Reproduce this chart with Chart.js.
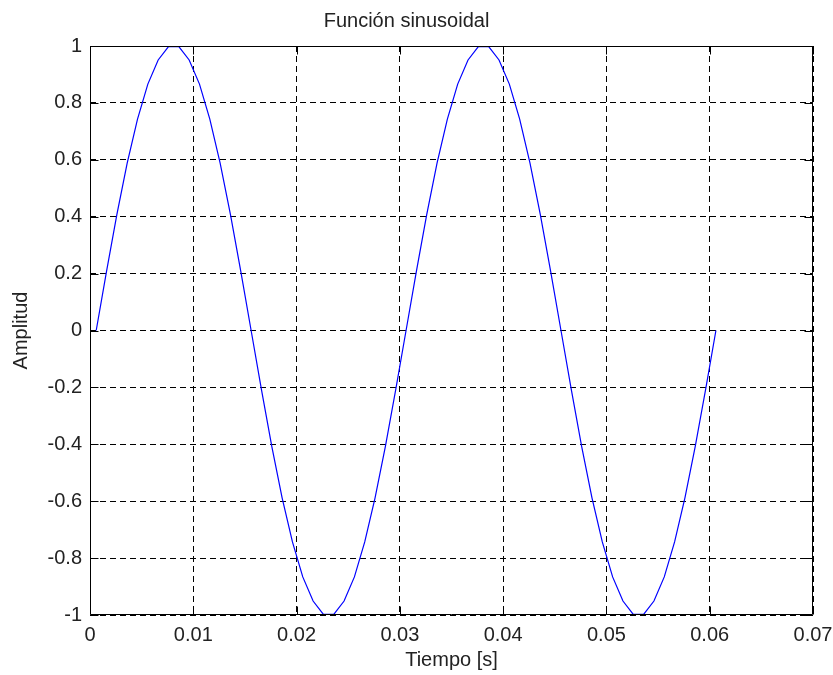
<!DOCTYPE html>
<html>
<head>
<meta charset="utf-8">
<script src="https://cdn.jsdelivr.net/npm/chart.js@4.4.1/dist/chart.umd.min.js"></script>
<style>
  html, body { margin: 0; padding: 0; background: #fff; }
  #caja { width: 833px; height: 675px; }
</style>
</head>
<body>
<div id="caja"><canvas id="grafica" width="833" height="675"></canvas></div>
<script>
// tiempo [s] de cada muestra
const tiempo = [
  0.0006, 0.0016, 0.0026, 0.0036, 0.0046, 0.0056, 0.0066, 0.0076, 0.0086, 0.0096,
  0.0106, 0.0116, 0.0126, 0.0136, 0.0146, 0.0156, 0.0166, 0.0176, 0.0186, 0.0196,
  0.0206, 0.0216, 0.0226, 0.0236, 0.0246, 0.0256, 0.0266, 0.0276, 0.0286, 0.0296,
  0.0306, 0.0316, 0.0326, 0.0336, 0.0346, 0.0356, 0.0366, 0.0376, 0.0386, 0.0396,
  0.0406, 0.0416, 0.0426, 0.0436, 0.0446, 0.0456, 0.0466, 0.0476, 0.0486, 0.0496,
  0.0506, 0.0516, 0.0526, 0.0536, 0.0546, 0.0556, 0.0566, 0.0576, 0.0586, 0.0596,
  0.0606
];
// amplitud de cada muestra
const amplitud = [
  0, 0.208, 0.407, 0.588, 0.743, 0.866, 0.951, 0.998, 0.998, 0.951,
  0.866, 0.743, 0.588, 0.407, 0.208, 0, -0.208, -0.407, -0.588, -0.743,
  -0.866, -0.951, -0.998, -0.998, -0.951, -0.866, -0.743, -0.588, -0.407, -0.208,
  0, 0.208, 0.407, 0.588, 0.743, 0.866, 0.951, 0.998, 0.998, 0.951,
  0.866, 0.743, 0.588, 0.407, 0.208, 0, -0.208, -0.407, -0.588, -0.743,
  -0.866, -0.951, -0.998, -0.998, -0.951, -0.866, -0.743, -0.588, -0.407, -0.208,
  0
];
const xTicks = [0, 0.01, 0.02, 0.03, 0.04, 0.05, 0.06, 0.07];
const yTicks = [-1, -0.8, -0.6, -0.4, -0.2, 0, 0.2, 0.4, 0.6, 0.8, 1];

const fuente = "'Liberation Sans', Arial, sans-serif";
const colorTexto = '#222';

// marco negro con marcas hacia adentro (estilo matlab)
const marco = {
  id: 'marco',
  afterDatasetsDraw(chart) {
    const {ctx, chartArea: a, scales: {x, y}} = chart;
    const L = Math.round(a.left) + 0.5, R = Math.round(a.right) - 0.5;
    const T = Math.round(a.top) + 0.5, B = Math.round(a.bottom) - 0.5;
    const largo = 8;
    ctx.save();
    ctx.strokeStyle = '#000';
    ctx.lineWidth = 1;
    ctx.setLineDash([]);
    ctx.beginPath();
    ctx.rect(L, T, R - L, B - T);
    xTicks.forEach(v => {
      const px = Math.round(x.getPixelForValue(v)) + 0.5;
      ctx.moveTo(px, B); ctx.lineTo(px, B - largo);
      ctx.moveTo(px, T); ctx.lineTo(px, T + largo);
    });
    yTicks.forEach(v => {
      const py = Math.round(y.getPixelForValue(v)) + 0.5;
      ctx.moveTo(L, py); ctx.lineTo(L + largo, py);
      ctx.moveTo(R, py); ctx.lineTo(R - largo, py);
    });
    ctx.stroke();
    ctx.restore();
  }
};

const ctx = document.getElementById('grafica').getContext('2d');
new Chart(ctx, {
  type: 'line',
  data: {
    datasets: [{
      data: tiempo.map((t, i) => ({x: t, y: amplitud[i]})),
      borderColor: '#0000ff',
      borderWidth: 1.2,
      pointRadius: 0,
      tension: 0,
      fill: false
    }]
  },
  options: {
    responsive: false,
    animation: false,
    layout: { padding: { left: 0, right: 20, top: 0, bottom: 0 } },
    plugins: {
      legend: { display: false },
      tooltip: { enabled: false },
      title: {
        display: true,
        text: 'Función sinusoidal',
        color: colorTexto,
        font: { family: fuente, size: 20, weight: 'normal' },
        padding: { top: 9, bottom: 13 }
      }
    },
    scales: {
      x: {
        type: 'linear',
        min: 0,
        max: 0.07,
        afterBuildTicks: s => { s.ticks = xTicks.map(v => ({value: v})); },
        afterFit: s => { s.height = 60; s.paddingLeft = 0; s.paddingRight = 0; },
        ticks: {
          color: colorTexto,
          padding: 8,
          maxRotation: 0,
          font: { family: fuente, size: 20 },
          callback: v => String(+v.toFixed(2))
        },
        grid: { color: '#000', lineWidth: 1, drawTicks: false },
        border: { display: false, dash: [6, 4] },
        title: {
          display: true,
          text: 'Tiempo [s]',
          color: colorTexto,
          font: { family: fuente, size: 20 },
          padding: { top: 0, bottom: 3 }
        }
      },
      y: {
        min: -1,
        max: 1,
        afterBuildTicks: s => { s.ticks = yTicks.map(v => ({value: v})); },
        afterFit: s => { s.width = 90; s.paddingTop = 0; s.paddingBottom = 0; },
        ticks: {
          color: colorTexto,
          padding: 8,
          font: { family: fuente, size: 20 },
          callback: v => String(+v.toFixed(1))
        },
        grid: { color: '#000', lineWidth: 1, drawTicks: false },
        border: { display: false, dash: [6, 4] },
        title: {
          display: true,
          text: 'Amplitud',
          color: colorTexto,
          font: { family: fuente, size: 20 },
          padding: { top: 9, bottom: 0 }
        }
      }
    }
  },
  plugins: [marco]
});
</script>
</body>
</html>
